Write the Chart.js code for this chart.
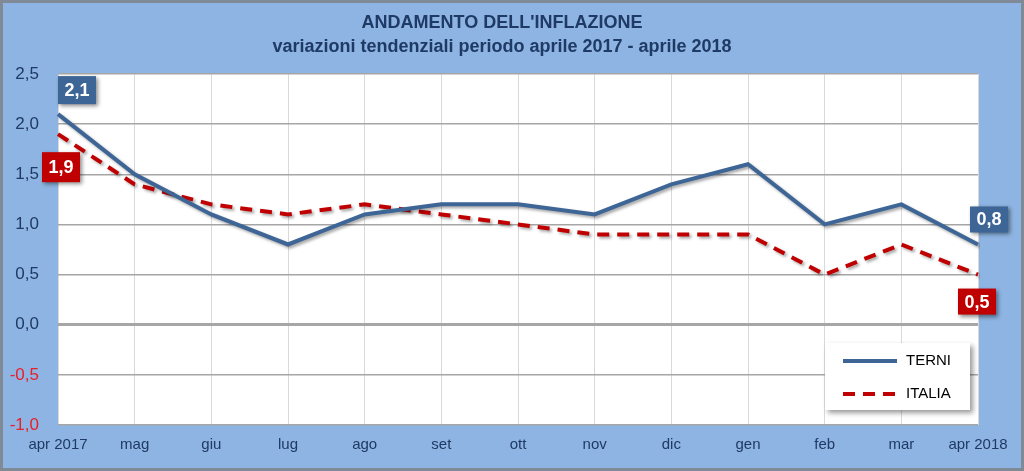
<!DOCTYPE html>
<html>
<head>
<meta charset="utf-8">
<script src="https://cdn.jsdelivr.net/npm/chart.js@4"></script>
<style>
  html, body { margin: 0; padding: 0; background: #ffffff; }
  #wrap { width: 1018px; height: 465px; border: 3px solid #7f8a96; background: #8db4e2; }
  canvas { display: block; }
</style>
</head>
<body>
<div id="wrap"><canvas id="myChart" width="1018" height="465"></canvas></div>
<script>
const months = ["apr 2017", "mag", "giu", "lug", "ago", "set", "ott", "nov", "dic", "gen", "feb", "mar", "apr 2018"];
const terni = [2.1, 1.5, 1.1, 0.8, 1.1, 1.2, 1.2, 1.1, 1.4, 1.6, 1.0, 1.2, 0.8];
const italia = [1.9, 1.4, 1.2, 1.1, 1.2, 1.1, 1.0, 0.9, 0.9, 0.9, 0.5, 0.8, 0.5];
const yTicks = [-1.0, -0.5, 0.0, 0.5, 1.0, 1.5, 2.0, 2.5];

const titleText = "ANDAMENTO DELL'INFLAZIONE";
const subtitleText = "variazioni tendenziali periodo aprile 2017 - aprile 2018";

const BLUE = "#3d6595";
const RED = "#c00000";
const NAVY = "#1f3a64";
const FONT = "'Liberation Sans', Arial, sans-serif";

const fmt = v => v.toFixed(1).replace(".", ",");

// background, titles, shadows, value boxes and legend
const decor = {
  id: "decor",
  beforeDraw(chart) {
    const ctx = chart.ctx;
    ctx.save();
    ctx.fillStyle = "#8db4e2";
    ctx.fillRect(0, 0, chart.width, chart.height);
    const a = chart.chartArea;
    ctx.fillStyle = "#ffffff";
    ctx.fillRect(a.left, a.top, a.right - a.left, a.bottom - a.top);
    ctx.fillStyle = NAVY;
    ctx.textAlign = "center";
    ctx.textBaseline = "middle";
    ctx.font = "bold 18px " + FONT;
    ctx.fillText(titleText, 499, 20);
    ctx.fillText(subtitleText, 499, 44);
    ctx.restore();
  },
  beforeDatasetDraw(chart) {
    const ctx = chart.ctx;
    ctx.save();
    ctx.shadowColor = "rgba(0,0,0,0.35)";
    ctx.shadowBlur = 3;
    ctx.shadowOffsetX = 2;
    ctx.shadowOffsetY = 2;
  },
  afterDatasetDraw(chart) {
    chart.ctx.restore();
  },
  afterDraw(chart) {
    const ctx = chart.ctx;
    const a = chart.chartArea;
    const box = (x, y, w, h, fill, text) => {
      ctx.save();
      ctx.shadowColor = "rgba(0,0,0,0.45)";
      ctx.shadowBlur = 4;
      ctx.shadowOffsetX = 2;
      ctx.shadowOffsetY = 2;
      ctx.fillStyle = fill;
      ctx.fillRect(x, y, w, h);
      ctx.restore();
      ctx.save();
      ctx.fillStyle = "#ffffff";
      ctx.font = "bold 18px " + FONT;
      ctx.textAlign = "center";
      ctx.textBaseline = "middle";
      ctx.fillText(text, x + w / 2, y + h / 2 + 1);
      ctx.restore();
    };
    const t = chart.getDatasetMeta(0).data;
    const it = chart.getDatasetMeta(1).data;
    const last = terni.length - 1;
    box(t[0].x, t[0].y - 38, 38, 28, BLUE, fmt(terni[0]));
    box(it[0].x - 16, it[0].y + 18, 38, 30, RED, fmt(italia[0]));
    box(t[last].x - 8, t[last].y - 38, 38, 26, BLUE, fmt(terni[last]));
    box(it[last].x - 20, it[last].y + 14, 38, 26, RED, fmt(italia[last]));

    // legend
    const lw = 145, lh = 67;
    const lx = a.right - 8 - lw, ly = a.bottom - 15 - lh;
    ctx.save();
    ctx.shadowColor = "rgba(0,0,0,0.4)";
    ctx.shadowBlur = 5;
    ctx.shadowOffsetX = 3;
    ctx.shadowOffsetY = 3;
    ctx.fillStyle = "#ffffff";
    ctx.fillRect(lx, ly, lw, lh);
    ctx.restore();
    ctx.save();
    ctx.lineWidth = 4;
    ctx.font = "15px " + FONT;
    ctx.textBaseline = "middle";
    chart.data.datasets.forEach((ds, i) => {
      const yy = ly + 18 + i * 33;
      ctx.strokeStyle = ds.borderColor;
      ctx.setLineDash(ds.borderDash || []);
      ctx.beginPath();
      ctx.moveTo(lx + 18, yy);
      ctx.lineTo(lx + 72, yy);
      ctx.stroke();
      ctx.fillStyle = "#000000";
      ctx.fillText(ds.label, lx + 81, yy);
    });
    ctx.restore();
  }
};

new Chart(document.getElementById("myChart").getContext("2d"), {
  type: "line",
  data: {
    labels: months,
    datasets: [{
      label: "TERNI",
      data: terni,
      borderColor: BLUE,
      borderWidth: 4,
      pointRadius: 0,
      tension: 0,
      fill: false
    }, {
      label: "ITALIA",
      data: italia,
      borderColor: RED,
      borderWidth: 4,
      borderDash: [12, 8],
      pointRadius: 0,
      tension: 0,
      fill: false
    }]
  },
  options: {
    responsive: false,
    animation: false,
    layout: { padding: { top: 71, right: 43, left: 0, bottom: 0 } },
    plugins: {
      legend: { display: false },
      title: { display: false },
      tooltip: { enabled: false }
    },
    scales: {
      x: {
        offset: false,
        grid: { color: "#d9d9d9", lineWidth: 1, drawTicks: false },
        border: { display: false },
        ticks: {
          color: NAVY,
          font: { family: FONT, size: 15 },
          padding: 11,
          maxRotation: 0,
          autoSkip: false
        },
        afterFit(s) { s.height = 43; }
      },
      y: {
        min: yTicks[0],
        max: yTicks[yTicks.length - 1],
        afterBuildTicks(s) { s.ticks = yTicks.map(v => ({ value: v })); },
        grid: {
          color: "#a6a6a6",
          lineWidth: c => (c.tick && c.tick.value === 0 ? 3 : 1.5),
          drawTicks: false
        },
        border: { display: false },
        ticks: {
          color: c => (c.tick.value < 0 ? "#e8202a" : NAVY),
          font: { family: FONT, size: 17 },
          padding: 19,
          callback: v => fmt(v)
        },
        afterFit(s) { s.width = 55; }
      }
    }
  },
  plugins: [decor]
});
</script>
</body>
</html>
